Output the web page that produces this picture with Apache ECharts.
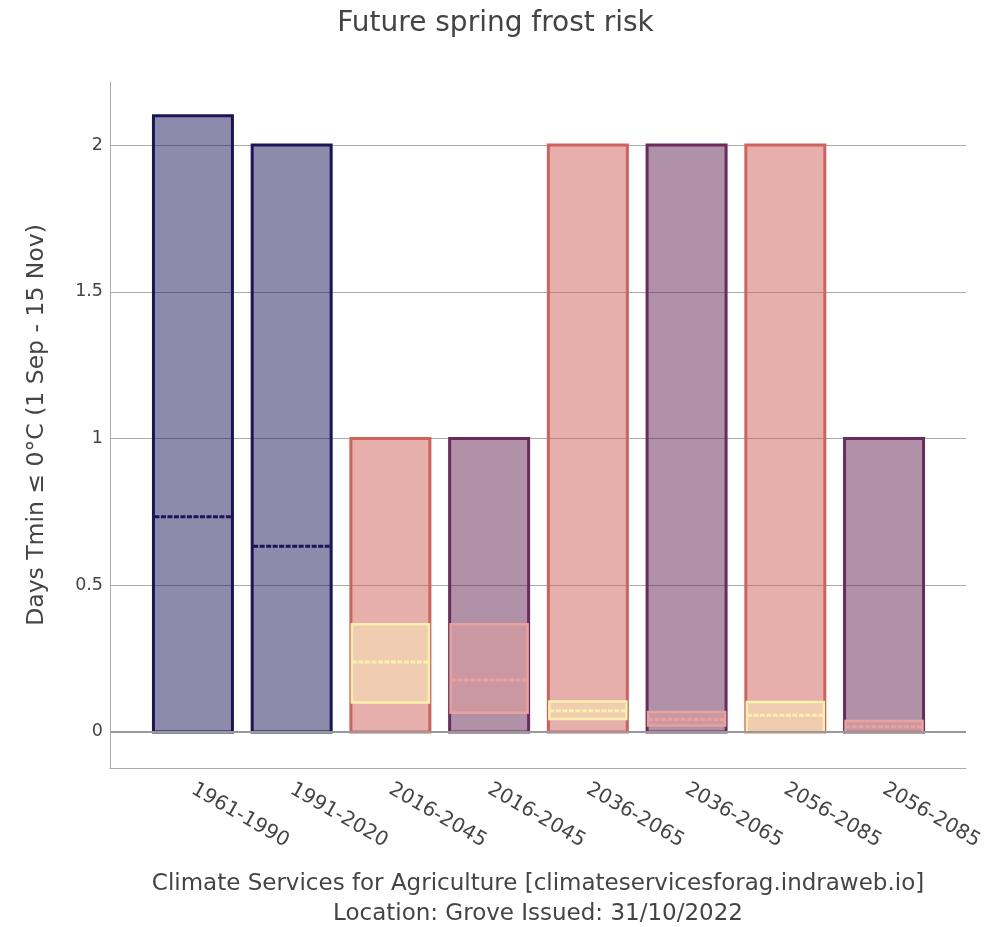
<!DOCTYPE html>
<html>
<head>
<meta charset="utf-8">
<script src="https://cdn.jsdelivr.net/npm/echarts@6/dist/echarts.min.js"></script>
<style>html,body{margin:0;padding:0;background:#fff}#chart{width:991px;height:927px}</style>
</head>
<body>
<div id="chart"></div>
<script>
// ---- data ----
const categories = ['1961-1990','1991-2020','2016-2045','2016-2045','2036-2065','2036-2065','2056-2085','2056-2085'];
const barTop   = [2.1, 2.0, 1.0, 1.0, 2.0, 2.0, 2.0, 1.0];
const boxLow   = [null, null, 0.100, 0.065, 0.044, 0.022, 0.0, 0.0];
const boxHigh  = [null, null, 0.367, 0.367, 0.104, 0.068, 0.102, 0.037];
const medians  = [0.733, 0.633, 0.238, 0.177, 0.072, 0.042, 0.057, 0.018];
const groups   = ['hist','hist','low','high','low','high','low','high'];
const yTicks   = [0, 0.5, 1, 1.5, 2];
const xTicks   = [0, 1, 2, 3, 4, 5, 6, 7];

const styles = {
  hist: {stroke:'#1b1557', fill:'rgba(27,21,87,0.5)', boxStroke:'#1b1557', boxFill:'rgba(27,21,87,0)'},
  low:  {stroke:'#d0625d', fill:'rgba(205,95,90,0.5)', boxStroke:'#fbf1ad', boxFill:'rgba(250,235,180,0.5)'},
  high: {stroke:'#6b2a5c', fill:'rgba(100,35,80,0.5)', boxStroke:'#e8a29d', boxFill:'rgba(230,160,155,0.5)'}
};

const seriesData = categories.map((c, i) => [i, barTop[i], boxLow[i], boxHigh[i], medians[i]]);

const chart = echarts.init(document.getElementById('chart'), null, {renderer:'canvas'});
const textColor = '#444';
const font = '"DejaVu Sans", Verdana, sans-serif';

function renderItem(params, api) {
  const i = api.value(0);
  const st = styles[groups[i]];
  const halfW = 0.4;
  const children = [];
  const p0 = api.coord([i - halfW, barTop[i]]);
  const p1 = api.coord([i + halfW, 0]);
  children.push({
    type:'rect', shape:{x:p0[0], y:p0[1], width:p1[0]-p0[0], height:p1[1]-p0[1]},
    style:{fill:st.fill, stroke:st.stroke, lineWidth:3}
  });
  if (boxLow[i] !== null && boxHigh[i] !== null) {
    const b0 = api.coord([i - halfW, boxHigh[i]]);
    const b1 = api.coord([i + halfW, boxLow[i]]);
    children.push({
      type:'rect', shape:{x:b0[0]+1, y:b0[1], width:b1[0]-b0[0]-2, height:b1[1]-b0[1]},
      style:{fill:st.boxFill, stroke:st.boxStroke, lineWidth:2.5}
    });
  }
  const m0 = api.coord([i - halfW, medians[i]]);
  const m1 = api.coord([i + halfW, medians[i]]);
  children.push({
    type:'line', shape:{x1:m0[0]+1, y1:m0[1], x2:m1[0]-1, y2:m1[1]},
    style:{stroke:st.boxStroke, lineWidth:3, lineDash:[5,1.5]}
  });
  return {type:'group', children};
}

const option = {
  backgroundColor:'#fff',
  animation:false,
  title:{
    text:'Future spring frost risk', left:'center', top:5,
    textStyle:{fontFamily:font, fontSize:28, fontWeight:'normal', color:textColor}
  },
  grid:{left:110, right:25, top:82, bottom:159, containLabel:false, outerBoundsMode:'none'},
  xAxis:{
    type:'value', min:-0.84, max:7.83,
    axisLine:{show:true, onZero:false, lineStyle:{color:'#aaa', width:1}},
    axisTick:{show:false, customValues:xTicks},
    splitLine:{show:false},
    axisLabel:{
      customValues:xTicks,
      formatter:v => categories[Math.round(v)],
      rotate:-30, margin:20, hideOverlap:false,
      fontFamily:font, fontSize:20, color:textColor
    },
    name:'Climate Services for Agriculture [climateservicesforag.indraweb.io]\nLocation: Grove Issued: 31/10/2022',
    nameLocation:'middle', nameGap:101,
    nameTextStyle:{fontFamily:font, fontSize:23, color:textColor, lineHeight:30}
  },
  yAxis:{
    type:'value', min:-0.123, max:2.215,
    axisLine:{show:true, onZero:false, lineStyle:{color:'#aaa', width:1}},
    axisTick:{show:false, customValues:yTicks},
    splitLine:{show:true, lineStyle:{color:'#aaa', width:1}},
    axisLabel:{
      customValues:yTicks, margin:7,
      fontFamily:font, fontSize:17.5, color:textColor
    },
    name:'Days Tmin ≤ 0°C (1 Sep - 15 Nov)',
    nameLocation:'middle', nameGap:61,
    nameTextStyle:{fontFamily:font, fontSize:23.5, color:textColor}
  },
  series:[
    {
      type:'line', data:[], z:1,
      markLine:{
        silent:true, symbol:'none', animation:false,
        label:{show:false},
        lineStyle:{color:'#999', width:2, type:'solid'},
        data:[{yAxis:0}]
      }
    },
    {
      type:'custom', z:3,
      data:seriesData,
      encode:{x:0, y:1},
      renderItem
    }
  ]
};
chart.setOption(option);
</script>
</body>
</html>
